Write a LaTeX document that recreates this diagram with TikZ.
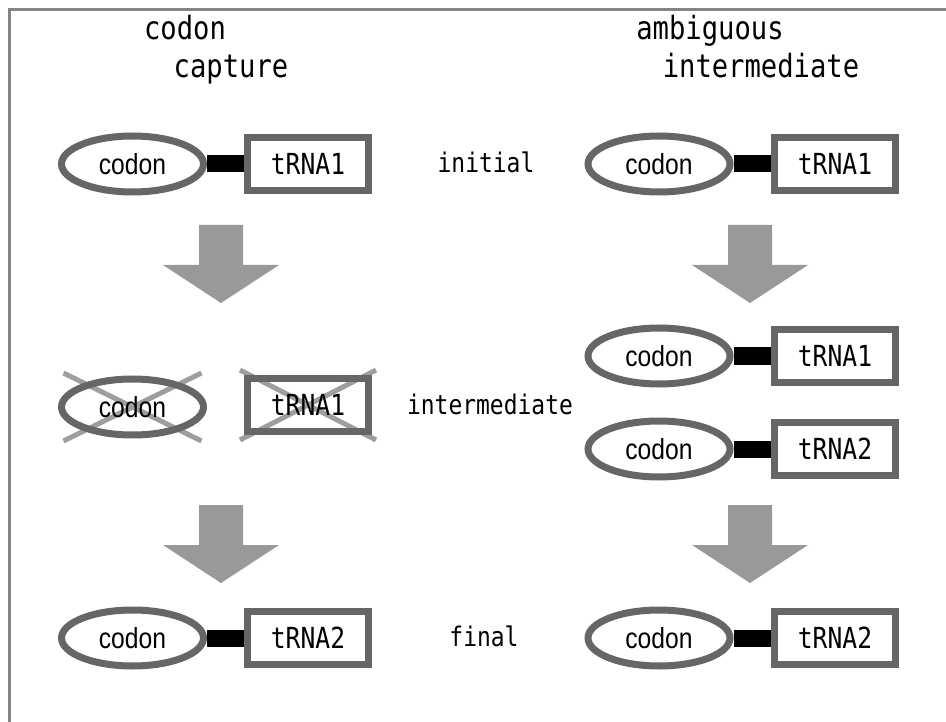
\documentclass[tikz,border=0pt]{standalone}
\usepackage{fontspec}
\usetikzlibrary{shapes.geometric,calc,backgrounds}
\newfontfamily\monof[FakeStretch=0.85]{DejaVu Sans Mono}
\newfontfamily\propf[FakeStretch=0.85]{Liberation Sans}
\definecolor{ringgray}{HTML}{666666}
\definecolor{crossgray}{HTML}{9E9E9E}
\definecolor{arrowgray}{HTML}{999999}
\definecolor{framegray}{HTML}{858585}
\begin{document}
\begin{tikzpicture}[x=1pt,y=-1pt,
  codonnode/.style={ellipse, draw=ringgray, line width=7pt, minimum width=142pt, minimum height=56pt, inner sep=0pt, font=\propf\fontsize{29}{34}\selectfont},
  trnanode/.style={rectangle, draw=ringgray, line width=7pt, minimum width=121pt, minimum height=53pt, inner sep=0pt, font=\monof\fontsize{29}{34}\selectfont},
  link/.style={line width=17pt, black},
  crossline/.style={crossgray, line width=5pt},
  titletext/.style={font=\monof\fontsize{32}{38}\selectfont, anchor=base, inner sep=0pt},
  stagetext/.style={font=\monof\fontsize{27}{32}\selectfont, anchor=base, inner sep=0pt},
  bigarrow/.pic={\fill[arrowgray] (-22,0) -- (22,0) -- (22,40) -- (58,40) -- (0,78) -- (-58,40) -- (-22,40) -- cycle;}
]
\useasboundingbox (0,0) rectangle (946,722);
\draw[framegray, line width=3pt] (9,722) -- (9,10) -- (946,10);

% titles
\node[titletext] (t1) at (185,40) {codon};
\node[titletext] (t2) at (231,78) {capture};
\node[titletext] (t3) at (710,40) {ambiguous};
\node[titletext] (t4) at (761,78) {intermediate};

% stage labels
\node[stagetext] (s1) at (486,173) {initial};
\node[stagetext] (s2) at (490,414) {intermediate};
\node[stagetext] (s3) at (484,646) {final};

% left column
\node[codonnode] (le1) at (132.5,164) {codon};
\node[trnanode] (lb1) at (308,164) {tRNA1};
\draw[link] (le1.east) -- (lb1.west);

\node[codonnode] (le2) at (132.5,407) {codon};
\node[trnanode] (lb2) at (308,405) {tRNA1};
\begin{scope}[on background layer]
\draw[crossline] ($(le2.center)+(-69,-34)$) -- ($(le2.center)+(69,34)$);
\draw[crossline] ($(le2.center)+(69,-34)$) -- ($(le2.center)+(-69,34)$);
\draw[crossline] ($(lb2.center)+(-68,-35)$) -- ($(lb2.center)+(68,35)$);
\draw[crossline] ($(lb2.center)+(68,-35)$) -- ($(lb2.center)+(-68,35)$);
\end{scope}

\node[codonnode] (le3) at (132.5,638) {codon};
\node[trnanode] (lb3) at (308,638) {tRNA2};
\draw[link] (le3.east) -- (lb3.west);

\pic at (221,225) {bigarrow};
\pic at (221,505) {bigarrow};

% right column
\node[codonnode] (re1) at (659,164) {codon};
\node[trnanode] (rb1) at (835,164) {tRNA1};
\draw[link] (re1.east) -- (rb1.west);

\node[codonnode] (re2) at (659,356) {codon};
\node[trnanode] (rb2) at (835,356) {tRNA1};
\draw[link] (re2.east) -- (rb2.west);

\node[codonnode] (re3) at (659,449) {codon};
\node[trnanode] (rb3) at (835,449) {tRNA2};
\draw[link] (re3.east) -- (rb3.west);

\node[codonnode] (re4) at (659,638) {codon};
\node[trnanode] (rb4) at (835,638) {tRNA2};
\draw[link] (re4.east) -- (rb4.west);

\pic at (750,225) {bigarrow};
\pic at (750,505) {bigarrow};
\end{tikzpicture}
\end{document}
